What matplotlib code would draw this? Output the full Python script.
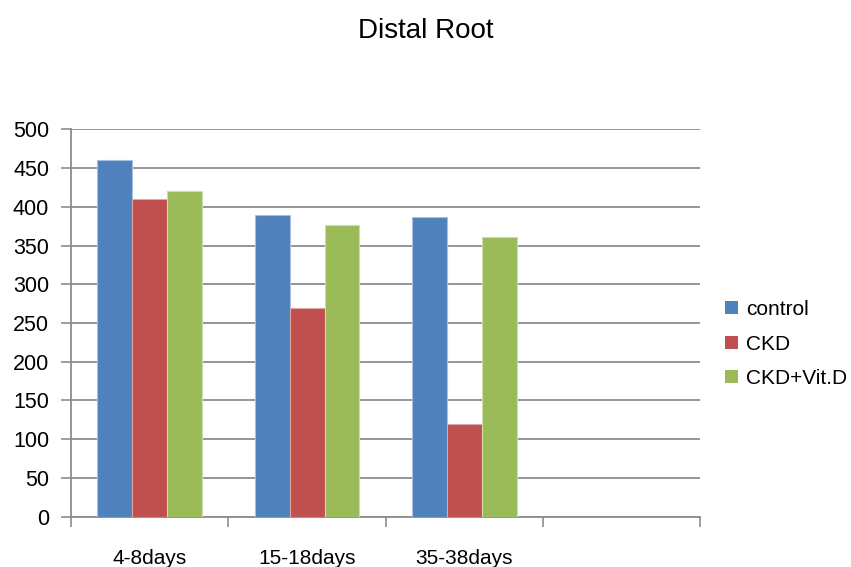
import matplotlib
matplotlib.use("Agg")
import matplotlib.pyplot as plt
from matplotlib.patches import Patch
import numpy as np

plt.rcParams['font.family'] = ['Liberation Sans', 'DejaVu Sans']

# Data
categories = ["4-8days", "15-18days", "35-38days", ""]
series_names = ["control", "CKD", "CKD+Vit.D"]
control = [460, 390, 387]
ckd = [410, 270, 120]
ckd_vitd = [420, 376, 361]
y_ticks = [0, 50, 100, 150, 200, 250, 300, 350, 400, 450, 500]

colors = ["#4F81BD", "#C0504D", "#9BBB59"]
edge_colors = ["#A7C0DE", "#DFA8A6", "#CDDDAC"]
grid_color = "#8C8C8C"

fig = plt.figure(figsize=(8.51, 5.67), dpi=100)
ax = fig.add_axes([71.3 / 851, 1 - 516.7 / 567, (700 - 71.3) / 851, (516.7 - 129.3) / 567])

n_cat = len(categories)
width = 1 / 4.5  # Excel-style 150% gap width
x = np.arange(len(control))
for i, (vals, c, ec) in enumerate(zip([control, ckd, ckd_vitd], colors, edge_colors)):
    ax.bar(x + (i - 1) * width, vals, width=width, color=c, edgecolor=ec,
           linewidth=0.8, zorder=3)

ax.set_xlim(-0.5, n_cat - 0.5)
ax.set_ylim(0, 500)

# Horizontal gridlines
ax.set_yticks(y_ticks)
ax.yaxis.grid(True, color=grid_color, linewidth=1.3, zorder=0)
ax.set_axisbelow(True)
ax.tick_params(axis='y', direction='out', length=7, width=1.2, color=grid_color,
               labelsize=15.5, pad=9)

# Category boundary ticks (major) and centered labels (minor)
ax.set_xticks(np.arange(-0.5, n_cat, 1.0))
ax.set_xticklabels([])
ax.tick_params(axis='x', which='major', direction='out', length=7, width=1.2,
               color=grid_color)
ax.set_xticks(np.arange(n_cat), minor=True)
ax.set_xticklabels(categories, minor=True)
ax.tick_params(axis='x', which='minor', length=0, labelsize=15, pad=23)

for side in ['top', 'right']:
    ax.spines[side].set_visible(False)
for side in ['left', 'bottom']:
    ax.spines[side].set_color(grid_color)
    ax.spines[side].set_linewidth(1.3)

fig.text(426 / 851, 1 - 31 / 567, "Distal Root", ha='center', va='center', fontsize=20)

handles = [Patch(facecolor=c, edgecolor='none') for c in colors]
fig.legend(handles, series_names, loc='center left',
           bbox_to_anchor=(725 / 851, 1 - 344 / 567), frameon=False,
           fontsize=15, handlelength=0.6, handleheight=0.6, handletextpad=0.4,
           labelspacing=0.75, borderaxespad=0, borderpad=0)

fig.savefig("out.png", dpi=100)
